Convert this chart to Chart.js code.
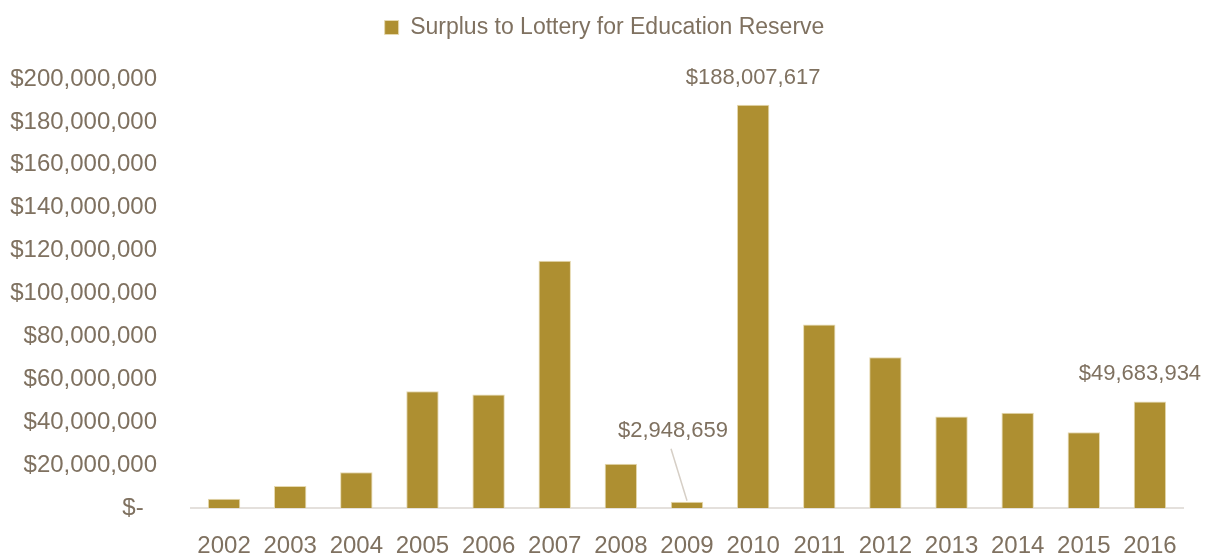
<!DOCTYPE html>
<html>
<head>
<meta charset="utf-8">
<script src="https://cdn.jsdelivr.net/npm/chart.js@4"></script>
<style>
  html, body { margin: 0; padding: 0; background: #fff; }
  #wrap { width: 1208px; height: 555px; position: relative; }
</style>
</head>
<body>
<div id="wrap"><canvas id="surplusChart"></canvas></div>
<script>
// 데이터
const years = ['2002', '2003', '2004', '2005', '2006', '2007', '2008', '2009',
               '2010', '2011', '2012', '2013', '2014', '2015', '2016'];
const surplus = [4300000, 10200000, 16700000, 54400000, 52900000, 115300000, 20600000, 2948659,
                 188007617, 85500000, 70300000, 42600000, 44400000, 35300000, 49683934];
const labelledYears = ['2009', '2010', '2016'];
const seriesName = 'Surplus to Lottery for Education Reserve';
const yTicks = [0, 20000000, 40000000, 60000000, 80000000, 100000000,
                120000000, 140000000, 160000000, 180000000, 200000000];

const TEXT = '#7f7160';
const BAR = '#ae8f31';
const FONT = "'Liberation Sans Narrow', 'Arial Narrow', 'Liberation Sans', sans-serif";

function money(v) {
  if (v === 0) return '$-  ';  // 회계 서식처럼 뒤에 여백
  return '$' + Math.round(v).toLocaleString('en-US');
}

// 범례 아래 여백 추가, 범례를 조금 오른쪽으로
const legendSpacer = {
  id: 'legendSpacer',
  beforeInit(chart) {
    const fit = chart.legend.fit;
    chart.legend.fit = function() {
      fit.bind(chart.legend)();
      this.height += 30;
    };
  },
  afterLayout(chart) {
    chart.legend.left += 13;
    chart.legend.right += 13;
  }
};

// 선택된 막대 위에 값 표시
const valueLabels = {
  id: 'valueLabels',
  afterDatasetsDraw(chart) {
    const ctx = chart.ctx;
    const meta = chart.getDatasetMeta(0);
    ctx.save();
    ctx.font = '22px ' + FONT;
    ctx.fillStyle = TEXT;
    ctx.textAlign = 'center';
    ctx.textBaseline = 'middle';
    labelledYears.forEach(y => {
      const i = years.indexOf(y);
      const bar = meta.data[i];
      const text = money(surplus[i]);
      if (y === '2009') {
        // 작은 막대는 지시선 사용
        const tx = bar.x - 14, ty = bar.y - 71;
        ctx.fillText(text, tx, ty);
        ctx.strokeStyle = '#d6cfc6';
        ctx.lineWidth = 1.5;
        ctx.beginPath();
        ctx.moveTo(bar.x - 16, ty + 18);
        ctx.lineTo(bar.x, bar.y - 1);
        ctx.stroke();
      } else if (y === '2016') {
        // 오른쪽 끝이라 왼쪽으로 약간 이동
        ctx.fillText(text, bar.x - 10, bar.y - 27);
      } else {
        ctx.fillText(text, bar.x, bar.y - 27);
      }
    });
    ctx.restore();
  }
};

const ctx = document.getElementById('surplusChart');
new Chart(ctx, {
  type: 'bar',
  data: {
    labels: years,
    datasets: [{
      label: seriesName,
      data: surplus,
      backgroundColor: BAR,
      borderColor: '#e6d9b0',
      borderWidth: 1,
      barPercentage: 0.49,
      categoryPercentage: 1
    }]
  },
  options: {
    responsive: true,
    maintainAspectRatio: false,
    animation: false,
    layout: { padding: { left: 0, right: 25, top: 2, bottom: 0 } },
    plugins: {
      legend: {
        display: true,
        position: 'top',
        labels: {
          color: TEXT,
          font: { family: FONT, size: 23 },
          boxWidth: 14,
          boxHeight: 14,
          padding: 14
        }
      },
      tooltip: { enabled: false }
    },
    scales: {
      x: {
        grid: { display: false },
        border: { display: true, color: '#e4e0dc', width: 2 },
        afterFit: axis => { axis.height = 47; },
        ticks: {
          color: TEXT,
          font: { family: FONT, size: 24 },
          padding: 16,
          maxRotation: 0,
          autoSkip: false
        }
      },
      y: {
        min: 0,
        max: 200000000,
        afterBuildTicks: axis => { axis.ticks = yTicks.map(v => ({ value: v })); },
        afterFit: axis => { axis.width = 191; },
        grid: { display: false },
        border: { display: false },
        ticks: {
          color: TEXT,
          font: { family: FONT, size: 24 },
          padding: 26,
          callback: v => money(v)
        }
      }
    }
  },
  plugins: [legendSpacer, valueLabels]
});
</script>
</body>
</html>
